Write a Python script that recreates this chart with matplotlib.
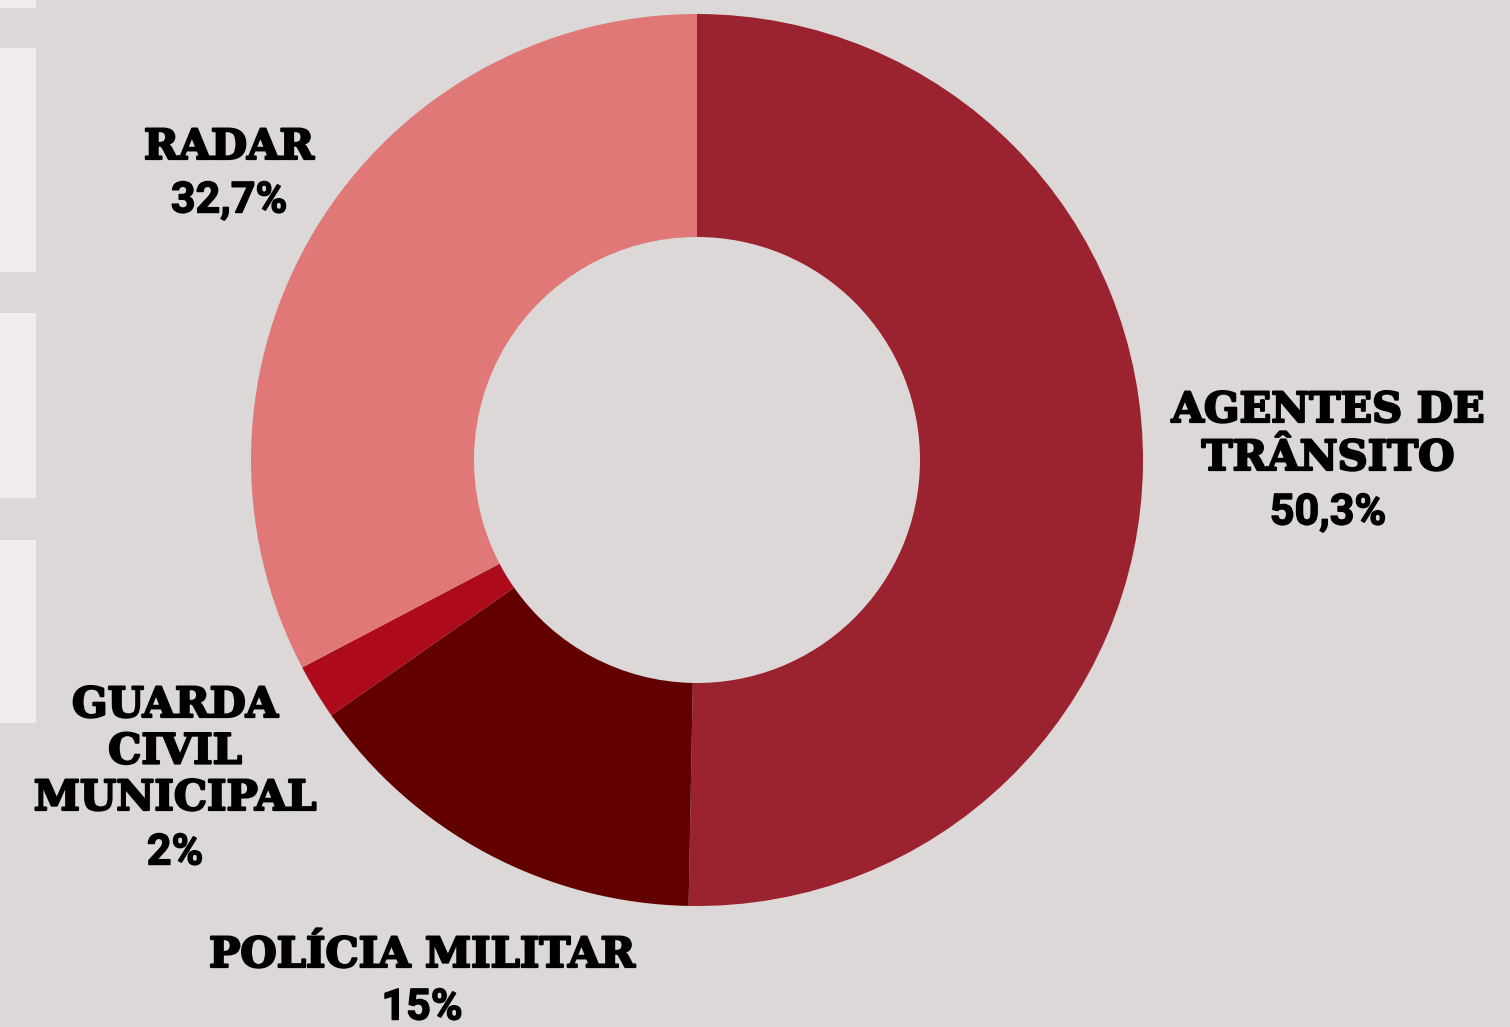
import matplotlib
matplotlib.use('Agg')
from matplotlib import pyplot as plt
import matplotlib.patheffects as pe

# Data
categories = ['AGENTES DE\nTRÂNSITO', 'POLÍCIA MILITAR', 'GUARDA\nCIVIL\nMUNICIPAL', 'RADAR']
shares = [50.3, 15, 2, 32.7]
share_labels = ['50,3%', '15%', '2%', '32,7%']
colors = ['#9b222f', '#620000', '#ad0a1c', '#e07877']

bg = '#dcd8d7'
W, H = 1510, 1027

fig = plt.figure(figsize=(15.1, 10.27), dpi=100)
fig.patch.set_facecolor(bg)
ax = fig.add_axes([0, 0, 1, 1])
ax.set_facecolor(bg)
ax.set_xlim(0, W)
ax.set_ylim(0, H)
ax.set_aspect('equal')
ax.axis('off')

# light panels on the left edge
for top, bottom in [(0, 8), (48, 272), (313, 498), (540, 723)]:
    ax.add_patch(plt.Rectangle((0, H - bottom), 36, bottom - top,
                               facecolor='#f2eded', edgecolor='none'))

# Donut
ax.pie(shares, colors=colors, startangle=90, counterclock=False,
       center=(697, H - 460), radius=446,
       wedgeprops=dict(width=223, edgecolor='none'))
ax.set_xlim(0, W)
ax.set_ylim(0, H)

# Labels: (x, y of first line, line step, y of percentage)
label_pos = [(1328, 410, 48, 513),
             (422, 955, 48, 1008),
             (175, 705, 46.5, 853),
             (229, 147, 48, 201)]

name_font = dict(family='DejaVu Serif', weight='bold', size=30, color='black',
                 path_effects=[pe.withStroke(linewidth=1.6, foreground='black')])
pct_font = dict(family=['Roboto', 'DejaVu Sans'], weight='bold', size=31, color='black',
                path_effects=[pe.withStroke(linewidth=1.0, foreground='black')])

for name, pct, (x, y0, step, yp) in zip(categories, share_labels, label_pos):
    for i, line in enumerate(name.split('\n')):
        ax.text(x, H - (y0 + i * step), line, ha='center', va='center', **name_font)
    ax.text(x, H - yp, pct, ha='center', va='center', **pct_font)

fig.savefig('out.png', dpi=100, facecolor=bg)
